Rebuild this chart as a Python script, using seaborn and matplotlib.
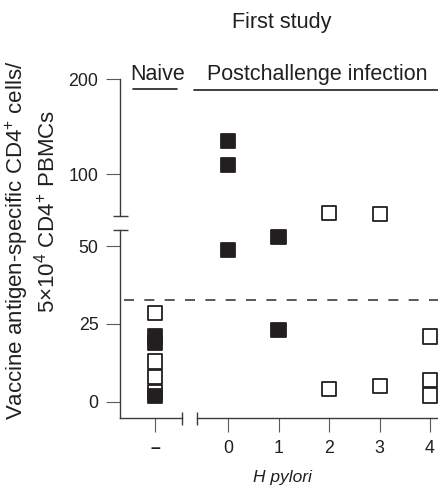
import numpy as np
import pandas as pd
import matplotlib
matplotlib.use("Agg")
import matplotlib.pyplot as plt
import matplotlib.transforms as mtransforms
from matplotlib.lines import Line2D
import seaborn as sns

# ---------------- data ----------------
infection = ["–", "–", "–", "–", "–", "–", "–",
             "0", "0", "0",
             "1", "1",
             "2", "2",
             "3", "3",
             "4", "4", "4"]
cells = [28.6, 21.0, 19.0, 13.0, 8.0, 3.2, 2.0,
         135.0, 109.5, 48.7,
         52.9, 23.0,
         59.3, 4.2,
         58.2, 5.1,
         21.0, 7.0, 2.1]
status = ["open", "filled", "filled", "open", "open", "open", "filled",
          "filled", "filled", "filled",
          "filled", "filled",
          "open", "open",
          "open", "open",
          "open", "open", "open"]
naive_order = ["–"]
post_order = ["0", "1", "2", "3", "4"]
lower_ticks = [0, 25, 50]
upper_ticks = [100, 200]
cutoff = 32.7
break_value = 55.5

# ---------------- style ----------------
sns.set_theme(style="white")
plt.rcParams["font.family"] = ["Liberation Sans", "DejaVu Sans"]
plt.rcParams["mathtext.fontset"] = "custom"
plt.rcParams["mathtext.rm"] = "Liberation Sans"
plt.rcParams["mathtext.it"] = "Liberation Sans:italic"
plt.rcParams["mathtext.default"] = "regular"

INK = "#231f20"
AXC = "#3c3c3c"
TICKC = "#5a5a5a"

df = pd.DataFrame({"infection": infection, "cells": cells, "status": status})
upper = df[df.cells > break_value]
lower = df[df.cells <= break_value]

W, H = 438, 486
fig = plt.figure(figsize=(W / 100, H / 100), dpi=100)


def rect(x0, x1, y0, y1):
    return [x0 / W, 1 - y1 / H, (x1 - x0) / W, (y1 - y0) / H]


ax_ul = fig.add_axes(rect(120, 182, 79, 216))
ax_ur = fig.add_axes(rect(197, 438, 79, 216))
ax_ll = fig.add_axes(rect(120, 182, 230, 418))
ax_lr = fig.add_axes(rect(197, 438, 230, 418))

pal = {"filled": INK, "open": "white"}
common = dict(x="infection", y="cells", hue="status", hue_order=["filled", "open"],
              palette=pal, marker="s", size=10.3, linewidth=1.3, edgecolor=INK,
              jitter=False, legend=False)

sns.stripplot(data=lower[lower.infection.isin(naive_order)], order=naive_order, ax=ax_ll, **common)
sns.stripplot(data=lower[lower.infection.isin(post_order)], order=post_order, ax=ax_lr, **common)
sns.stripplot(data=upper[upper.infection.isin(post_order)], order=post_order, ax=ax_ur, **common)

for ax in (ax_ul, ax_ur, ax_ll, ax_lr):
    for c in list(ax.collections):
        offs = c.get_offsets()
        if len(offs) == 0:
            c.remove()
        else:
            c.set_clip_on(False)
    ax.set_xlabel("")
    ax.set_ylabel("")
    ax.set_facecolor("none")
    for s in ax.spines.values():
        s.set_visible(False)
        s.set_color(AXC)
        s.set_linewidth(1.0)

# limits
ax_ll.set_xlim(-0.693, 0.535)
ax_ul.set_xlim(-0.693, 0.535)
ax_lr.set_xlim(-0.614, 4.158)
ax_ur.set_xlim(-0.614, 4.158)
ax_ll.set_ylim(-5.13, 55.13)
ax_lr.set_ylim(-5.13, 55.13)
ax_ul.set_ylim(55.8, 200)
ax_ur.set_ylim(55.8, 200)

# ticks and spines
ax_ul.spines["left"].set_visible(True)
ax_ul.set_yticks(upper_ticks)
ax_ul.set_xticks([])
ax_ur.set_xticks([])
ax_ur.set_yticks([])

ax_ll.spines["left"].set_visible(True)
ax_ll.spines["bottom"].set_visible(True)
ax_ll.set_yticks(lower_ticks)
ax_ll.set_xticks(range(len(naive_order)))
ax_ll.set_xticklabels(naive_order)

ax_lr.spines["bottom"].set_visible(True)
ax_lr.set_yticks([])
ax_lr.set_xticks(range(len(post_order)))
ax_lr.set_xticklabels(post_order)

for ax in (ax_ul, ax_ur, ax_ll, ax_lr):
    ax.tick_params(axis="both", left=True, bottom=True, length=10, width=0.8,
                   color=TICKC, labelsize=12.8, labelcolor=INK, pad=5.5)
for lab in ax_ll.get_xticklabels():
    lab.set_fontweight("bold")

# axis break caps
cap = dict(color=AXC, lw=1.0, clip_on=False, solid_capstyle="butt")
ax_ul.plot([-0.113, 0.129], [0, 0], transform=ax_ul.transAxes, **cap)
ax_ll.plot([-0.113, 0.129], [1, 1], transform=ax_ll.transAxes, **cap)
ax_ll.plot([1, 1], [-0.037, 0.032], transform=ax_ll.transAxes, **cap)
ax_lr.plot([0, 0], [-0.037, 0.032], transform=ax_lr.transAxes, **cap)

# dashed cutoff line across both lower panels
trans = mtransforms.blended_transform_factory(fig.transFigure, ax_ll.transData)
ax_ll.plot([124 / W, 1.0], [cutoff, cutoff], transform=trans, clip_on=False,
           color=AXC, lw=1.2, linestyle=(0, (6, 6.2)))

# headers
fig.text(282 / W, 1 - 28 / H, "First study", ha="center", va="baseline",
         fontsize=15.5, color=INK)
fig.text(157.5 / W, 1 - 80 / H, "Naive", ha="center", va="baseline",
         fontsize=15.5, color=INK)
fig.text(317 / W, 1 - 80 / H, "Postchallenge infection", ha="center", va="baseline",
         fontsize=15.5, color=INK)
fig.add_artist(Line2D([133 / W, 177 / W], [1 - 89 / H] * 2, transform=fig.transFigure,
                      color=INK, lw=1.2))
fig.add_artist(Line2D([194 / W, 438 / W], [1 - 90 / H] * 2, transform=fig.transFigure,
                      color=INK, lw=1.2))

# axis titles
fig.text(17 / W, 1 - 240 / H, "Vaccine antigen-specific CD4$^{+}$ cells/",
         rotation=90, ha="center", va="center", fontsize=16, color=INK)
fig.text(47 / W, 1 - 211 / H, "5×10$^{4}$ CD4$^{+}$ PBMCs",
         rotation=90, ha="center", va="center", fontsize=16, color=INK)
fig.text(282 / W, 1 - 482 / H, "H pylori", ha="center", va="baseline",
         fontsize=12.5, fontstyle="italic", color=INK)

fig.savefig("out.png", dpi=100)
